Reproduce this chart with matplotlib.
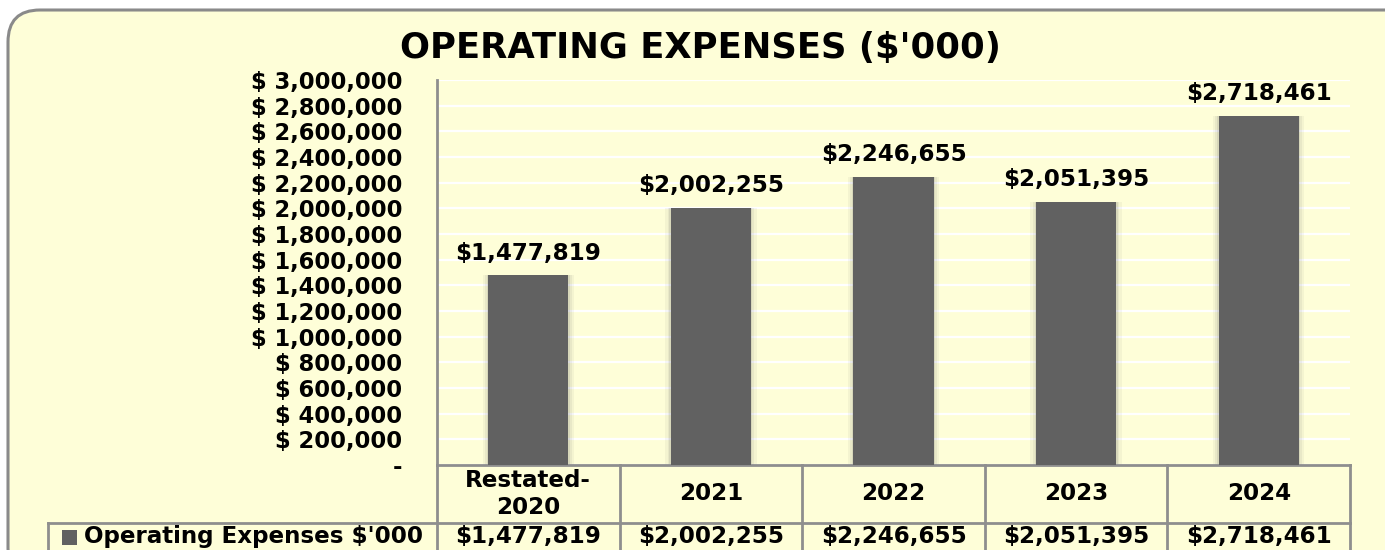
import matplotlib.pyplot as plt
import matplotlib.transforms as mtransforms
from matplotlib.patches import FancyBboxPatch, Rectangle
from matplotlib.ticker import FuncFormatter, MultipleLocator

categories = ['Restated-\n2020', '2021', '2022', '2023', '2024']
expenses = [1477819, 2002255, 2246655, 2051395, 2718461]
series_name = "Operating Expenses $'000"
title = "OPERATING EXPENSES ($'000)"

W, H = 1385, 550
bg = '#FEFED8'
bar_color = '#616161'
line_color = '#8E8E8E'

plt.rcParams['font.family'] = ['DejaVu Sans']
plt.rcParams['font.weight'] = 'bold'

fig = plt.figure(figsize=(W / 100, H / 100), dpi=100)
fig.patch.set_facecolor('white')

# pixel transform, origin at top-left
px = mtransforms.Affine2D().scale(1 / W, -1 / H).translate(0, 1) + fig.transFigure

# rounded frame
frame = FancyBboxPatch((8, -30), W + 30, H - 10 + 30,
                       boxstyle='round,pad=0,rounding_size=32',
                       transform=mtransforms.IdentityTransform(),
                       facecolor=bg, edgecolor='#8A8A8A', linewidth=2.2, zorder=-5)
fig.patches.append(frame)

left, right, top, bottom = 437, 1350, 80, 465
ax = fig.add_axes([left / W, (H - bottom) / H, (right - left) / W, (bottom - top) / H])
ax.set_facecolor('none')
ax.set_xlim(-0.5, len(categories) - 0.5)
ax.set_ylim(0, 3000000)

# shadow + bars
x = range(len(categories))
for w, a in [(0.50, 0.06), (0.475, 0.08), (0.455, 0.12)]:
    ax.bar(x, expenses, width=w, color='#606060', alpha=a, zorder=2, linewidth=0)
ax.bar(x, expenses, width=0.44, color=bar_color, zorder=3, linewidth=0)

for i, v in enumerate(expenses):
    ax.annotate(f'${v:,}', (i, v), xytext=(0, 16), textcoords='offset points',
                ha='center', va='center', fontsize=16.6, fontweight='bold')

ax.yaxis.set_major_locator(MultipleLocator(200000))
ax.yaxis.set_major_formatter(FuncFormatter(lambda v, p: '-' if v == 0 else f'$ {int(v):,}'))
ax.tick_params(axis='y', length=0, pad=25, labelsize=16.3)
ax.tick_params(axis='x', length=0, labelbottom=False)
for lab in ax.get_yticklabels():
    lab.set_fontweight('bold')
ax.grid(axis='y', color='white', linewidth=1.6, zorder=1)
ax.set_axisbelow(True)
for s in ['top', 'right', 'bottom']:
    ax.spines[s].set_visible(False)
ax.spines['left'].set_color(line_color)
ax.spines['left'].set_linewidth(2)

fig.text(0.5 + 8 / W, 1 - 48 / H, title, ha='center', va='center',
         fontsize=25.5, fontweight='bold')

# data table below the axes: x in data units, y in pixels
tr = mtransforms.blended_transform_factory(ax.transData, px)
head_top, row_top, row_bot = bottom, 523, H + 5
n = len(categories)
lw = 2
ax.plot([-0.5, n - 0.5], [head_top, head_top], transform=tr, color=line_color, lw=lw, clip_on=False)
for k in range(n + 1):
    ax.plot([k - 0.5, k - 0.5], [head_top, row_bot], transform=tr, color=line_color, lw=lw, clip_on=False)
fig.add_artist(plt.Line2D([48, right], [row_top, row_top], transform=px, color=line_color, lw=lw))
fig.add_artist(plt.Line2D([48, 48], [row_top, row_bot], transform=px, color=line_color, lw=lw))

for i, (c, v) in enumerate(zip(categories, expenses)):
    ax.text(i, 494, c, transform=tr, ha='center', va='center', fontsize=16.6,
            fontweight='bold', linespacing=1.2, clip_on=False)
    ax.text(i, 537, f'${v:,}', transform=tr, ha='center', va='center', fontsize=16.6,
            fontweight='bold', clip_on=False)

fig.patches.append(Rectangle((62, 530), 15, 15, transform=px, facecolor=bar_color,
                             edgecolor='none'))
fig.text(84 / W, 1 - 537 / H, series_name, ha='left', va='center', fontsize=16.6,
         fontweight='bold')

fig.savefig('out.png', dpi=100, facecolor='white')
